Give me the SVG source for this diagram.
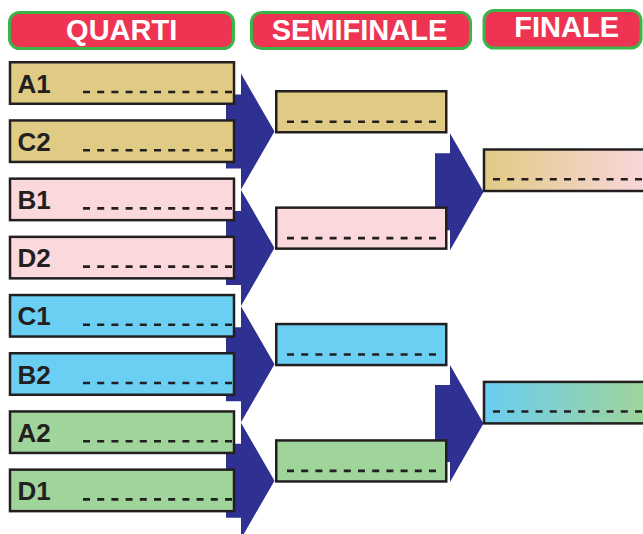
<svg xmlns="http://www.w3.org/2000/svg" width="643" height="534" viewBox="0 0 643 534">
<style>
.pill{fill:#ee3452;stroke:#3bb54a;stroke-width:3}
.ptxt{font-family:"Liberation Sans",Arial,sans-serif;font-weight:bold;font-size:29px;fill:#fff;text-anchor:middle}
.box{stroke:#231f20;stroke-width:2.5}
.lbl{font-family:"Liberation Sans",Arial,sans-serif;font-weight:bold;font-size:26px;fill:#231f20}
.dash{stroke:#231f20;stroke-width:2.6;stroke-dasharray:7 7.2}
.tan{fill:#e0cb85}.pink{fill:#fad8dc}.blue{fill:#6bcef3}.green{fill:#9fd49b}
.arr{fill:#2e3192}
</style>
<defs>
<linearGradient id="gTP" gradientUnits="userSpaceOnUse" x1="484" y1="0" x2="643" y2="0"><stop offset="0" stop-color="#e0cb85"/><stop offset="1" stop-color="#f8d6d9"/></linearGradient>
<linearGradient id="gBG" gradientUnits="userSpaceOnUse" x1="484" y1="0" x2="643" y2="0"><stop offset="0" stop-color="#6acdf2"/><stop offset="1" stop-color="#9fd49b"/></linearGradient>
</defs>
<g id="headers">
<g id="h-quarti"><rect class="pill" x="9.5" y="12.5" width="224" height="36" rx="10"/><text class="ptxt" x="121.7" y="40">QUARTI</text></g>
<g id="h-semifinale"><rect class="pill" x="251.5" y="12.5" width="219" height="36" rx="10"/><text class="ptxt" x="359.5" y="40">SEMIFINALE</text></g>
<g id="h-finale"><rect class="pill" x="484" y="10.5" width="157" height="37.5" rx="10"/><text class="ptxt" x="566.7" y="37.3">FINALE</text></g>
</g>
<g id="connectors">
<polygon class="arr" points="226,94.5 241,94.5 241,73.5 274.5,131.5 241,189.5 241,168.5 226,168.5"/>
<polygon class="arr" points="226,210.9 241,210.9 241,189.9 274.5,247.9 241,305.9 241,284.9 226,284.9"/>
<polygon class="arr" points="226,327.3 241,327.3 241,306.3 274.5,364.3 241,422.3 241,401.3 226,401.3"/>
<polygon class="arr" points="226,443.7 241,443.7 241,422.7 274.5,480.7 241,538.7 241,517.7 226,517.7"/>
<polygon class="arr" points="435,153.2 450,153.2 450,133.2 483.5,191.7 450,250.2 450,230.2 435,230.2"/>
<polygon class="arr" points="435,385 450,385 450,365 483.5,423.5 450,482 450,462 435,462"/>
</g>
<g id="q-A1"><rect class="box tan" x="10" y="62.25" width="224" height="41.5"/><text class="lbl" x="17.5" y="92.5">A1</text><line class="dash" x1="83" y1="92" x2="232" y2="92"/></g>
<g id="q-C2"><rect class="box tan" x="10" y="120.45" width="224" height="41.5"/><text class="lbl" x="17.5" y="150.7">C2</text><line class="dash" x1="83" y1="150.2" x2="232" y2="150.2"/></g>
<g id="q-B1"><rect class="box pink" x="10" y="178.65" width="224" height="41.5"/><text class="lbl" x="17.5" y="208.9">B1</text><line class="dash" x1="83" y1="208.4" x2="232" y2="208.4"/></g>
<g id="q-D2"><rect class="box pink" x="10" y="236.85" width="224" height="41.5"/><text class="lbl" x="17.5" y="267.1">D2</text><line class="dash" x1="83" y1="266.6" x2="232" y2="266.6"/></g>
<g id="q-C1"><rect class="box blue" x="10" y="295.05" width="224" height="41.5"/><text class="lbl" x="17.5" y="325.3">C1</text><line class="dash" x1="83" y1="324.8" x2="232" y2="324.8"/></g>
<g id="q-B2"><rect class="box blue" x="10" y="353.25" width="224" height="41.5"/><text class="lbl" x="17.5" y="383.5">B2</text><line class="dash" x1="83" y1="383" x2="232" y2="383"/></g>
<g id="q-A2"><rect class="box green" x="10" y="411.45" width="224" height="41.5"/><text class="lbl" x="17.5" y="441.7">A2</text><line class="dash" x1="83" y1="441.2" x2="232" y2="441.2"/></g>
<g id="q-D1"><rect class="box green" x="10" y="469.65" width="224" height="41.5"/><text class="lbl" x="17.5" y="499.9">D1</text><line class="dash" x1="83" y1="499.4" x2="232" y2="499.4"/></g>
<g id="sf-1"><rect class="box tan" x="276.25" y="91.25" width="170" height="41"/><line class="dash" x1="287" y1="121.7" x2="436" y2="121.7"/></g>
<g id="sf-2"><rect class="box pink" x="276.25" y="207.65" width="170" height="41"/><line class="dash" x1="287" y1="238.1" x2="436" y2="238.1"/></g>
<g id="sf-3"><rect class="box blue" x="276.25" y="324.05" width="170" height="41"/><line class="dash" x1="287" y1="354.5" x2="436" y2="354.5"/></g>
<g id="sf-4"><rect class="box green" x="276.25" y="440.45" width="170" height="41"/><line class="dash" x1="287" y1="470.9" x2="436" y2="470.9"/></g>
<g id="f-1"><rect class="box" fill="url(#gTP)" x="484" y="149.5" width="170" height="41.5"/><line class="dash" x1="493" y1="179.3" x2="650" y2="179.3"/></g>
<g id="f-2"><rect class="box" fill="url(#gBG)" x="484" y="381.9" width="170" height="41.5"/><line class="dash" x1="493" y1="411.5" x2="650" y2="411.5"/></g>
</svg>
